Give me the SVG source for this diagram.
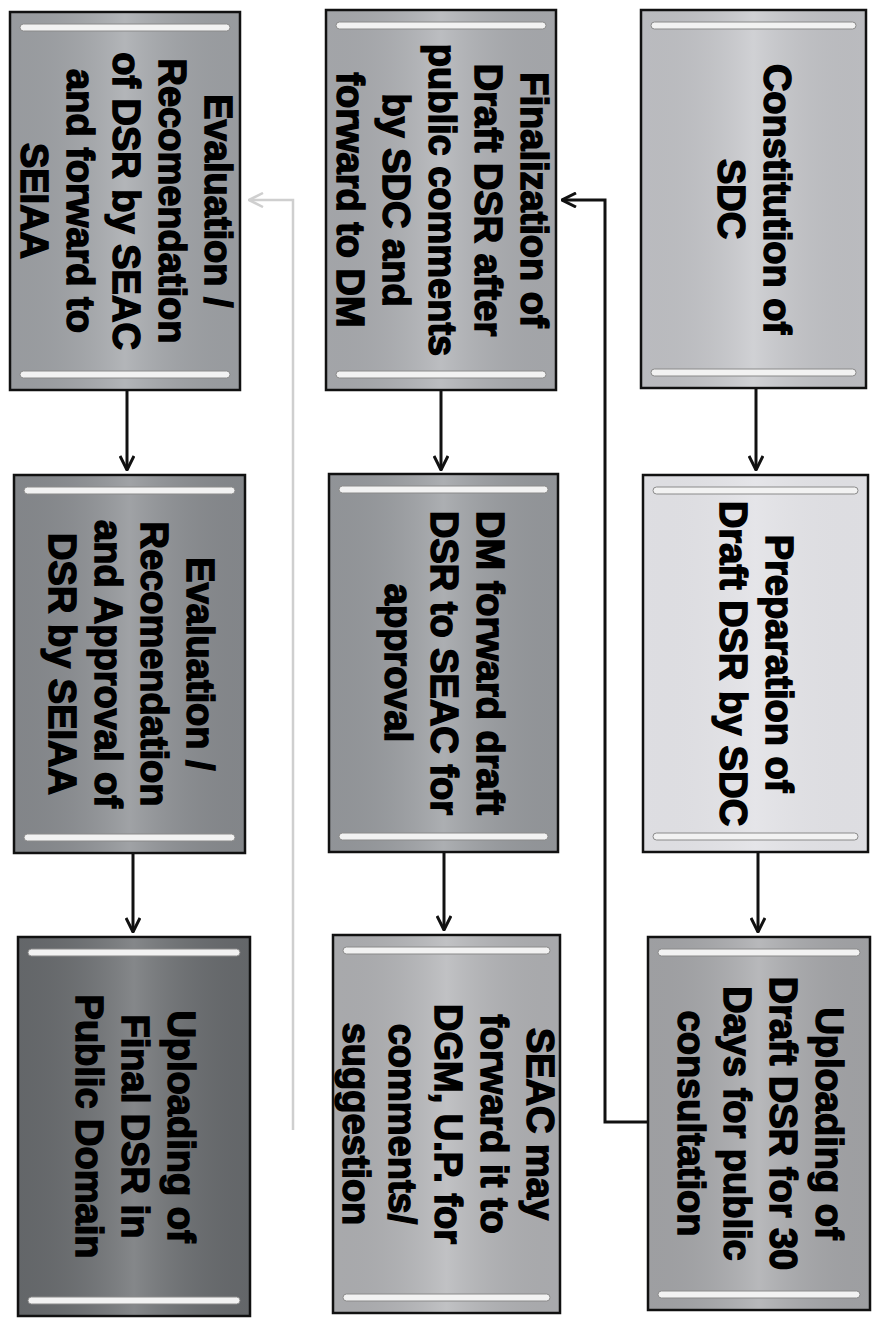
<svg xmlns="http://www.w3.org/2000/svg" width="881" height="1326" viewBox="0 0 881 1326">
<style>
.box{stroke:#111;stroke-width:2.5}
.sheen{fill:url(#sheen);stroke:none}
.bar{fill:#f2f2f2;stroke:#8a8a8a;stroke-width:1}
.t{font-family:"Liberation Sans",Arial,sans-serif;font-weight:bold;font-size:38px;fill:#000;stroke:#000;stroke-width:1.5;text-anchor:middle}
.c{fill:none;stroke:#111;stroke-width:3}
.cl{fill:none;stroke:#cfcfcf;stroke-width:2.5}
</style>
<defs>
<linearGradient id="sheen" x1="0" y1="0" x2="1" y2="0">
<stop offset="0" stop-color="#000" stop-opacity="0.06"/>
<stop offset="0.5" stop-color="#fff" stop-opacity="0.18"/>
<stop offset="1" stop-color="#000" stop-opacity="0.06"/>
</linearGradient>
<marker id="ah" viewBox="0 0 16 16" refX="15" refY="8" markerWidth="16" markerHeight="16" markerUnits="userSpaceOnUse" orient="auto">
<path d="M1,1 L15,8 L1,15" fill="none" stroke="#111" stroke-width="3"/>
</marker>
<marker id="ahl" viewBox="0 0 16 16" refX="15" refY="8" markerWidth="16" markerHeight="16" markerUnits="userSpaceOnUse" orient="auto">
<path d="M1,1 L15,8 L1,15" fill="none" stroke="#cfcfcf" stroke-width="2.5"/>
</marker>
</defs>
<rect width="881" height="1326" fill="#fff"/>

<g id="connectors">
<line class="c" x1="756" y1="389" x2="756" y2="470" marker-end="url(#ah)"/>
<line class="c" x1="758" y1="853" x2="758" y2="932" marker-end="url(#ah)"/>
<line class="c" x1="441" y1="391" x2="441" y2="470" marker-end="url(#ah)"/>
<line class="c" x1="444" y1="853" x2="444" y2="930" marker-end="url(#ah)"/>
<line class="c" x1="127" y1="391" x2="127" y2="470" marker-end="url(#ah)"/>
<line class="c" x1="133" y1="854" x2="133" y2="932" marker-end="url(#ah)"/>
<polyline class="c" points="648,1122 605,1122 605,200 562,200" marker-end="url(#ah)"/>
<polyline class="cl" points="293,1130 293,200 249,200" marker-end="url(#ahl)"/>
</g>

<g id="n1">
<rect class="box" x="641" y="10" width="225" height="378" fill="#c6c7cb"/>
<rect class="sheen" x="642" y="11" width="223" height="376"/>
<rect class="bar" x="651" y="22" width="205" height="7" rx="3.5"/>
<rect class="bar" x="651" y="369" width="205" height="7" rx="3.5"/>
<text class="t" transform="rotate(90 753.5 199)"><tspan x="753.5" y="189">Constitution of</tspan><tspan x="753.5" y="235">SDC</tspan></text>
</g>

<g id="n2">
<rect class="box" x="643" y="475" width="225" height="377" fill="#e3e3e7"/>
<rect class="sheen" x="644" y="476" width="223" height="375" opacity="0.4"/>
<rect class="bar" x="653" y="487" width="205" height="7" rx="3.5"/>
<rect class="bar" x="653" y="833" width="205" height="7" rx="3.5"/>
<text class="t" transform="rotate(90 755.5 663.5)"><tspan x="755.5" y="653">Preparation of</tspan><tspan x="755.5" y="699">Draft DSR by SDC</tspan></text>
</g>

<g id="n3">
<rect class="box" x="648" y="937" width="222" height="373" fill="#a8a9ac"/>
<rect class="sheen" x="649" y="938" width="220" height="371"/>
<rect class="bar" x="658" y="949" width="202" height="7" rx="3.5"/>
<rect class="bar" x="658" y="1291" width="202" height="7" rx="3.5"/>
<text class="t" transform="rotate(90 759 1123.5)"><tspan x="759" y="1067">Uploading of</tspan><tspan x="759" y="1113">Draft DSR for 30</tspan><tspan x="759" y="1159">Days for public</tspan><tspan x="759" y="1205">consultation</tspan></text>
</g>

<g id="n4">
<rect class="box" x="326" y="10" width="230" height="380" fill="#adafb3"/>
<rect class="sheen" x="327" y="11" width="228" height="378"/>
<rect class="bar" x="336" y="22" width="210" height="7" rx="3.5"/>
<rect class="bar" x="336" y="371" width="210" height="7" rx="3.5"/>
<text class="t" transform="rotate(90 441 200)"><tspan x="441" y="120">Finalization of</tspan><tspan x="441" y="166">Draft DSR after</tspan><tspan x="441" y="212">public comments</tspan><tspan x="441" y="258">by SDC and</tspan><tspan x="441" y="304">forward to DM</tspan></text>
</g>

<g id="n5">
<rect class="box" x="329" y="474" width="229" height="378" fill="#9a9da1"/>
<rect class="sheen" x="330" y="475" width="227" height="376"/>
<rect class="bar" x="339" y="486" width="209" height="7" rx="3.5"/>
<rect class="bar" x="339" y="833" width="209" height="7" rx="3.5"/>
<text class="t" transform="rotate(90 443.5 663)"><tspan x="443.5" y="630">DM forward draft</tspan><tspan x="443.5" y="676">DSR to SEAC for</tspan><tspan x="443.5" y="722">approval</tspan></text>
</g>

<g id="n6">
<rect class="box" x="333" y="935" width="227" height="378" fill="#b3b4b7"/>
<rect class="sheen" x="334" y="936" width="225" height="376"/>
<rect class="bar" x="343" y="947" width="207" height="7" rx="3.5"/>
<rect class="bar" x="343" y="1294" width="207" height="7" rx="3.5"/>
<text class="t" transform="rotate(90 446.5 1124)"><tspan x="446.5" y="1044">SEAC may</tspan><tspan x="446.5" y="1090">forward it to</tspan><tspan x="446.5" y="1136">DGM, U.P. for</tspan><tspan x="446.5" y="1182">comments/</tspan><tspan x="446.5" y="1228">suggestion</tspan></text>
</g>

<g id="n7">
<rect class="box" x="10" y="12" width="230" height="378" fill="#a2a5a9"/>
<rect class="sheen" x="11" y="13" width="228" height="376"/>
<rect class="bar" x="20" y="24" width="210" height="7" rx="3.5"/>
<rect class="bar" x="20" y="371" width="210" height="7" rx="3.5"/>
<text class="t" transform="rotate(90 125 201)"><tspan x="125" y="121">Evaluation /</tspan><tspan x="125" y="167">Recomendation</tspan><tspan x="125" y="213">of DSR by SEAC</tspan><tspan x="125" y="259">and forward to</tspan><tspan x="125" y="305">SEIAA</tspan></text>
</g>

<g id="n8">
<rect class="box" x="14" y="475" width="231" height="378" fill="#8b8e92"/>
<rect class="sheen" x="15" y="476" width="229" height="376"/>
<rect class="bar" x="24" y="487" width="211" height="7" rx="3.5"/>
<rect class="bar" x="24" y="834" width="211" height="7" rx="3.5"/>
<text class="t" transform="rotate(90 129.5 664)"><tspan x="129.5" y="607">Evaluation /</tspan><tspan x="129.5" y="653">Recomendation</tspan><tspan x="129.5" y="699">and Approval of</tspan><tspan x="129.5" y="745">DSR by SEIAA</tspan></text>
</g>

<g id="n9">
<rect class="box" x="18" y="937" width="232" height="379" fill="#6a6d70"/>
<rect class="sheen" x="19" y="938" width="230" height="377"/>
<rect class="bar" x="28" y="949" width="212" height="7" rx="3.5"/>
<rect class="bar" x="28" y="1297" width="212" height="7" rx="3.5"/>
<text class="t" transform="rotate(90 134 1126.5)"><tspan x="134" y="1093">Uploading of</tspan><tspan x="134" y="1139">Final DSR in</tspan><tspan x="134" y="1185">Public Domain</tspan></text>
</g>
</svg>
